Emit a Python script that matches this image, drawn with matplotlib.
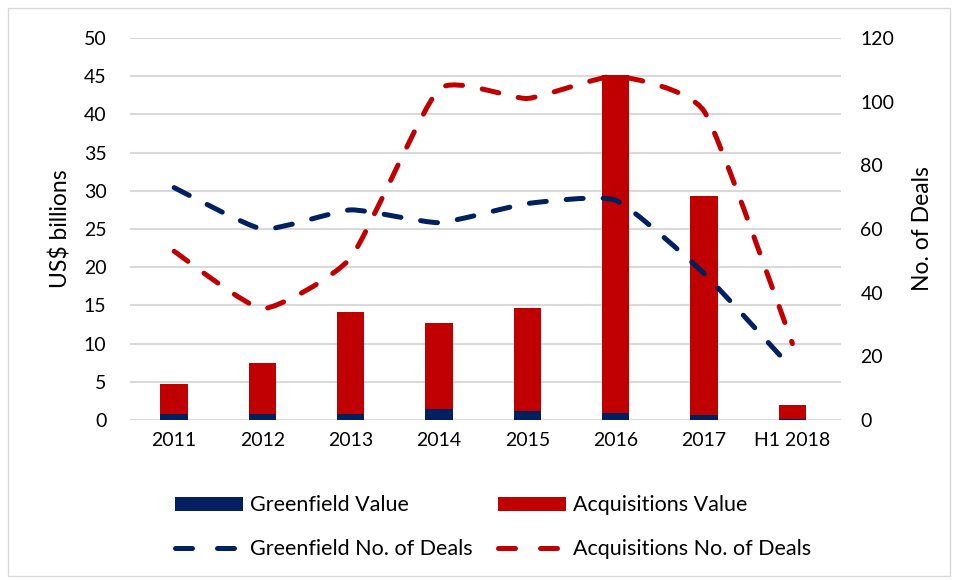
import matplotlib
matplotlib.use("Agg")
from matplotlib import pyplot as plt
from matplotlib.patches import Rectangle, PathPatch
from matplotlib.path import Path
from matplotlib.lines import Line2D
import numpy as np

# data
years = ['2011', '2012', '2013', '2014', '2015', '2016', '2017', 'H1 2018']
greenfield_value = [0.8, 0.85, 0.8, 1.45, 1.2, 0.9, 0.7, 0.1]
acquisitions_value = [3.9, 6.6, 13.4, 11.3, 13.5, 44.3, 28.6, 1.9]
greenfield_deals = [73, 60, 66, 62, 68, 69, 46, 16]
acquisitions_deals = [53, 35, 51, 104, 101, 108, 97, 24]

navy = '#002060'
red = '#C00000'
grid_col = '#D9D9D9'
dash = (0, (3.4, 4.0))

plt.rcParams['font.family'] = ['Lato', 'DejaVu Sans']


def smooth_path(xs, ys, k=12.0):
    # smoothed line like excel: catmull-rom style segments as cubic beziers, low tension
    p = np.column_stack([xs, ys]).astype(float)
    pts = np.vstack([p[0], p, p[-1]])
    verts = [p[0]]
    codes = [Path.MOVETO]
    for i in range(1, len(pts) - 2):
        p0, p1, p2, p3 = pts[i - 1], pts[i], pts[i + 1], pts[i + 2]
        verts += [p1 + (p2 - p0) / k, p2 - (p3 - p1) / k, p2]
        codes += [Path.CURVE4] * 3
    return Path(verts, codes)


fig = plt.figure(figsize=(9.56, 5.8), dpi=100)
ax = fig.add_axes([130/956, 1-420/580, 711/956, 382/580])
ax2 = ax.twinx()

x = np.arange(len(years))
w = 0.31
b1 = ax.bar(x, greenfield_value, w, color=navy, zorder=3)
b2 = ax.bar(x, acquisitions_value, w, bottom=greenfield_value, color=red, zorder=3)

for vals, col in [(greenfield_deals, navy), (acquisitions_deals, red)]:
    pp = PathPatch(smooth_path(x, vals), facecolor='none', edgecolor=col,
                   lw=3.6, linestyle=dash, capstyle='round')
    ax2.add_patch(pp)

ax.set_xlim(-0.5, 7.55)
ax.set_ylim(0, 50)
ax.set_yticks(range(0, 51, 5))
ax2.set_ylim(0, 120)
ax2.set_yticks(range(0, 121, 20))
ax.set_xticks(x)
ax.set_xticklabels(years)

ax.grid(axis='y', color=grid_col, lw=1.5, zorder=0)
ax.set_axisbelow(True)
for a in (ax, ax2):
    for s in a.spines.values():
        s.set_visible(False)
ax.tick_params(axis='both', length=0, labelsize=14, colors='#000000')
ax.tick_params(axis='y', pad=17)
ax.tick_params(axis='x', pad=9)
ax2.tick_params(axis='y', length=0, labelsize=14, pad=14)

ax.set_ylabel('US$ billions', fontsize=16.5)
ax.yaxis.set_label_coords(-0.082, 0.5)
ax2.set_ylabel('No. of Deals', fontsize=16.5, rotation=90)
ax2.yaxis.set_label_coords(1.1, 0.5)

l1 = Line2D([], [], color=navy, lw=3.6, ls=(0, (3.4, 5.0)), dash_capstyle='round')
l2 = Line2D([], [], color=red, lw=3.6, ls=(0, (3.4, 5.0)), dash_capstyle='round')
fig.legend([b1, l1, b2, l2],
           ['Greenfield Value', 'Greenfield No. of Deals',
            'Acquisitions Value', 'Acquisitions No. of Deals'],
           ncol=2, loc='center', bbox_to_anchor=(0.516, 0.091),
           frameon=False, fontsize=15.5, handlelength=3.15, handleheight=0.6,
           columnspacing=1.16, labelspacing=1.1, handletextpad=0.35)

fig.patches.append(Rectangle((8/956, 4/580), 942/956, 568/580, transform=fig.transFigure,
                             fill=False, edgecolor='#D9D9D9', lw=1))

fig.savefig('out.png', dpi=100)
